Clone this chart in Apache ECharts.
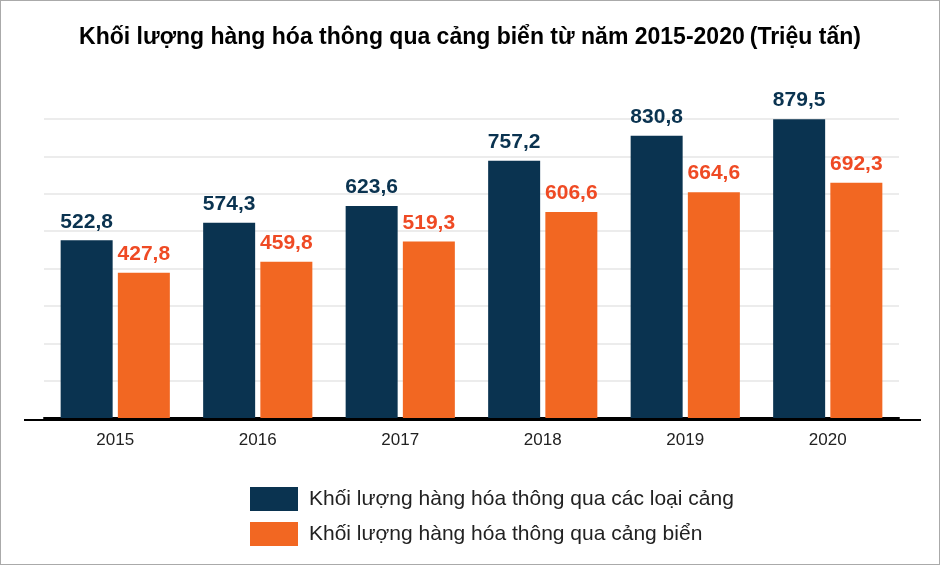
<!DOCTYPE html><html><head><meta charset="utf-8"><script src="https://cdn.jsdelivr.net/npm/echarts@6/dist/echarts.min.js"></script>
<style>html,body{margin:0;padding:0;background:#fff}#c{width:940px;height:565px;box-sizing:border-box;border:1px solid #aaa}</style></head><body><div id="c"></div><script>
const categories=['2015','2016','2017','2018','2019','2020'];
const allPorts=[522.8,574.3,623.6,757.2,830.8,879.5];
const seaPorts=[427.8,459.8,519.3,606.6,664.6,692.3];
const fmt=p=>String(p.value).replace('.',',');
const ch=echarts.init(document.getElementById('c'));
ch.setOption({animation:false,
title:{text:'{b|Khối lượng hàng hóa thông qua cảng biển từ năm 2015-2020} {n|(Triệu tấn)}',left:'center',top:20,textStyle:{rich:{b:{fontFamily:'Liberation Sans',fontWeight:'bold',fontSize:23,color:'#000'},n:{fontFamily:'Liberation Sans',fontSize:23,color:'#000'}}}},
grid:{left:43,right:40,top:118,bottom:146,containLabel:false},
legend:{orient:'vertical',left:244,top:481,itemWidth:48,itemHeight:24,itemGap:11,icon:'rect',textStyle:{fontFamily:'Liberation Sans',fontSize:21,color:'#222',padding:[0,0,0,6]}},
xAxis:{type:'category',data:categories,axisLine:{lineStyle:{color:'#000',width:2}},axisTick:{show:false},axisLabel:{fontFamily:'Liberation Sans',fontSize:17,color:'#222',margin:14}},
yAxis:{type:'value',min:0,max:880,interval:110,axisLabel:{show:false},axisLine:{show:false},axisTick:{show:false},splitLine:{lineStyle:{color:'#e6e6e6',width:1.5}}},
graphic:[{type:'line',shape:{x1:23,y1:419,x2:920,y2:419},style:{stroke:'#000',lineWidth:2},z:100}],
series:[
{name:'Khối lượng hàng hóa thông qua các loại cảng',type:'bar',data:allPorts,barWidth:52,barGap:'10%',itemStyle:{color:'#0a3350'},label:{show:true,position:'top',distance:8,formatter:fmt,fontFamily:'Liberation Sans',fontWeight:'bold',fontSize:21,color:'#0a3350'}},
{name:'Khối lượng hàng hóa thông qua cảng biển',type:'bar',data:seaPorts,barWidth:52,itemStyle:{color:'#f26722'},label:{show:true,position:'top',distance:8,formatter:fmt,fontFamily:'Liberation Sans',fontWeight:'bold',fontSize:21,color:'#ef4a24'}}
]});
</script></body></html>
